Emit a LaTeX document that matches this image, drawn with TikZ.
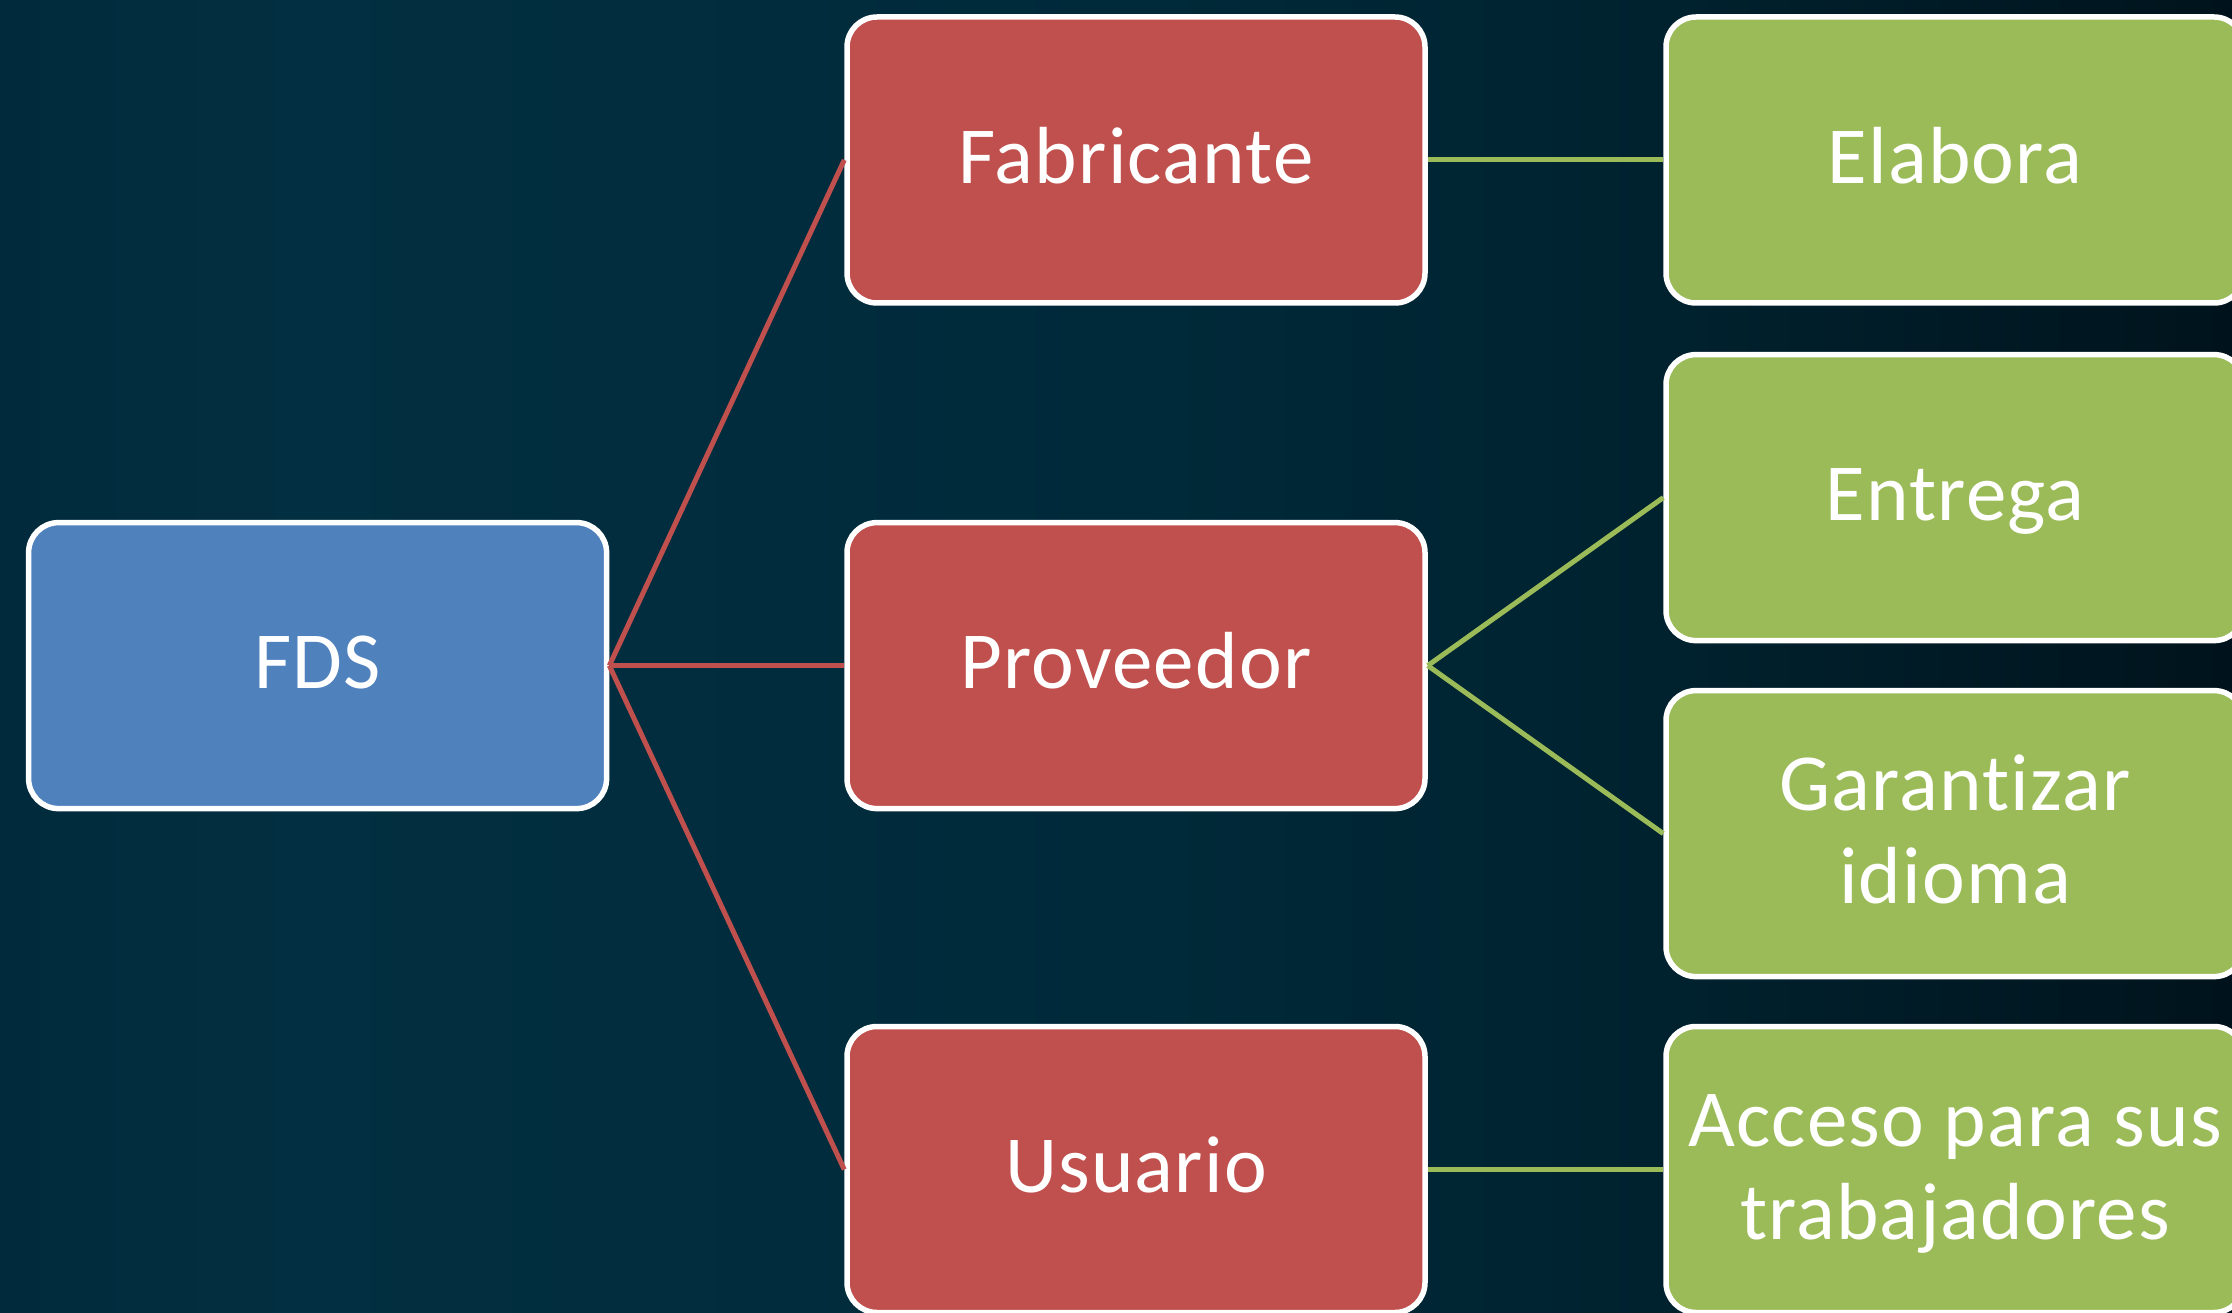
\documentclass[tikz,border=0pt]{standalone}
\usepackage{fontspec}
\setmainfont[Ligatures=NoCommon,LetterSpace=1.5]{Carlito}
\definecolor{bgA}{HTML}{012B3D}
\definecolor{bgB}{HTML}{022F41}
\definecolor{bgC}{HTML}{002A3A}
\definecolor{bgD}{HTML}{00222F}
\definecolor{bgE}{HTML}{00131C}
\definecolor{fdsblue}{HTML}{4F81BD}
\definecolor{boxred}{HTML}{C0504D}
\definecolor{boxgreen}{HTML}{9BBB59}
\pgfdeclarehorizontalshading{bgshade}{100bp}{color(0bp)=(bgA); color(25bp)=(bgA); color(32bp)=(bgB); color(50bp)=(bgC); color(62bp)=(bgD); color(75bp)=(bgE); color(100bp)=(bgE)}
\newcommand{\tp}{\rule{0pt}{0.8em}}
\newcommand{\bt}{\rule[-0.23em]{0pt}{0.23em}}
\tikzset{
  card/.style={draw=white, line width=5.5pt, rounded corners=30pt,
    minimum width=578pt, minimum height=286pt, text=white, align=center,
    font=\fontsize{81pt}{93pt}\selectfont, inner sep=0pt},
  rootcard/.style={card, fill=fdsblue},
  midcard/.style={card, fill=boxred},
  leafcard/.style={card, fill=boxgreen},
  redlink/.style={draw=boxred, line width=5pt},
  greenlink/.style={draw=boxgreen, line width=5pt}
}
\begin{document}
\begin{tikzpicture}[x=1pt,y=-1pt]
\useasboundingbox (0,0) rectangle (2232,1313);
\shade[shading=bgshade] (0,0) rectangle (2232,1313);
\node[rootcard] (fds) at (317.6,665.6) {\tp FDS\bt};
\node[midcard] (fab) at (1136,160) {\tp Fabricante\bt};
\node[midcard] (prov) at (1136,665.6) {\tp Proveedor\bt};
\node[midcard] (usu) at (1136,1169.5) {\tp Usuario\bt};
\node[leafcard] (elab) at (1955,160) {\tp Elabora\bt};
\node[leafcard] (ent) at (1955,497.6) {\tp Entrega\bt};
\node[leafcard] (gar) at (1955,833.6) {\tp Garantizar\\idioma\bt};
\node[leafcard] (acc) at (1955,1169.5) {\tp Acceso para sus\\trabajadores\bt};
\draw[redlink] (fds.east) -- (fab.west);
\draw[redlink] (fds.east) -- (prov.west);
\draw[redlink] (fds.east) -- (usu.west);
\draw[greenlink] (fab.east) -- (elab.west);
\draw[greenlink] (prov.east) -- (ent.west);
\draw[greenlink] (prov.east) -- (gar.west);
\draw[greenlink] (usu.east) -- (acc.west);
\end{tikzpicture}
\end{document}
